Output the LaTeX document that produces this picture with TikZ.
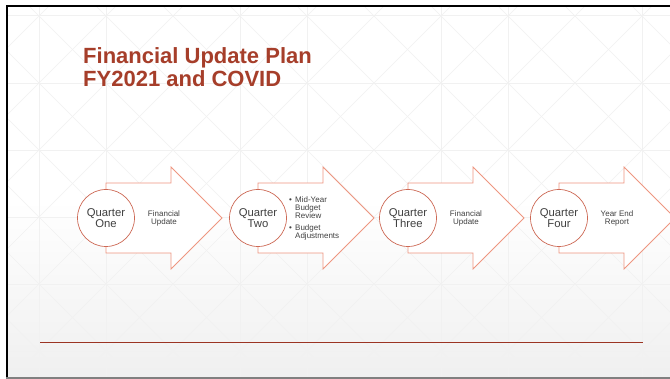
\documentclass[tikz,border=0pt]{standalone}
\usepackage{fontspec}
\setmainfont{Liberation Sans}
\definecolor{rust}{RGB}{166,62,42}
\definecolor{rustline}{RGB}{155,52,35}
\definecolor{salmon}{RGB}{238,150,128}
\definecolor{circ}{RGB}{205,105,85}
\definecolor{txt}{RGB}{64,64,64}
\definecolor{gridc}{RGB}{241,241,241}
\begin{document}
\begin{tikzpicture}[x=1pt,y=-1pt,
  arrowshape/.style={draw=salmon, line width=0.8pt, fill=white, line join=miter},
  qcircle/.style={circle, draw=circ, line width=0.7pt, fill=white, minimum size=57pt, inner sep=0pt, align=center, font=\fontsize{11.3}{10.5}\selectfont, text=txt},
  atext/.style={align=center, inner sep=0pt, font=\fontsize{8}{8}\selectfont, text=txt},
  titletext/.style={anchor=base west, inner sep=0pt, font=\fontsize{22}{23}\selectfont\bfseries, text=rust},
  gridline/.style={draw=gridc, line width=0.6pt}]
\clip (0,0) rectangle (670,379);
\fill[white] (0,0) rectangle (670,379);
% slide background
\fill[white] (7,7) rectangle (670,200);
\shade[top color=white, bottom color=black!6] (7,199.5) rectangle (670,377);
\begin{scope}
  \clip (7,7) rectangle (670,377);
  \foreach \k in {-9,...,7} { \draw[gridline] ({224+67*\k},0) -- ({624+67*\k},400); }
  \foreach \k in {-6,...,10} { \draw[gridline] ({390+67*\k},0) -- ({-10+67*\k},400); }
  \foreach \xx in {39,106,240,307,441,508,642} { \draw[gridline] (\xx,0) -- (\xx,400); }
  \foreach \yy in {15,83,150,217,284,351} { \draw[gridline] (0,\yy) -- (670,\yy); }
\end{scope}
% frame
\fill[black] (5.5,5) rectangle (8,379);
\fill[black] (5.5,5) rectangle (670,7.5);
\fill[black!50] (5.5,377) rectangle (670,379);
% title
\node[titletext] (t1) at (83,64) {Financial Update Plan};
\node[titletext] (t2) at (83,87) {FY2021 and COVID};
% arrows and circles
\foreach \c/\n/\t in {106/1/{Quarter\\One},258/2/{Quarter\\Two},408/3/{Quarter\\Three},559/4/{Quarter\\Four}} {
  \draw[arrowshape] (\c,183) -- ({\c+65},183) -- ({\c+65},167) -- ({\c+116},218) -- ({\c+65},269) -- ({\c+65},253) -- (\c,253) -- cycle;
  \node[qcircle] (q\n) at (\c,218) {\t};
}
\node[atext] (a1) at (164,218.5) {Financial\\Update};
\node[atext] (a3) at (466,218.5) {Financial\\Update};
\node[atext] (a4) at (617,218.5) {Year End\\Report};
\node[atext, anchor=west, align=left] (a2) at (289,218.5) {\makebox[6pt][l]{•}Mid-Year\\\hspace*{6pt}Budget\\\hspace*{6pt}Review\\[3.5pt]\makebox[6pt][l]{•}Budget\\\hspace*{6pt}Adjustments};
% bottom rule
\coordinate (l1) at (40,343);
\coordinate (l2) at (643,343);
\draw[rustline, line width=1pt] (l1) -- (l2);
\end{tikzpicture}
\end{document}
